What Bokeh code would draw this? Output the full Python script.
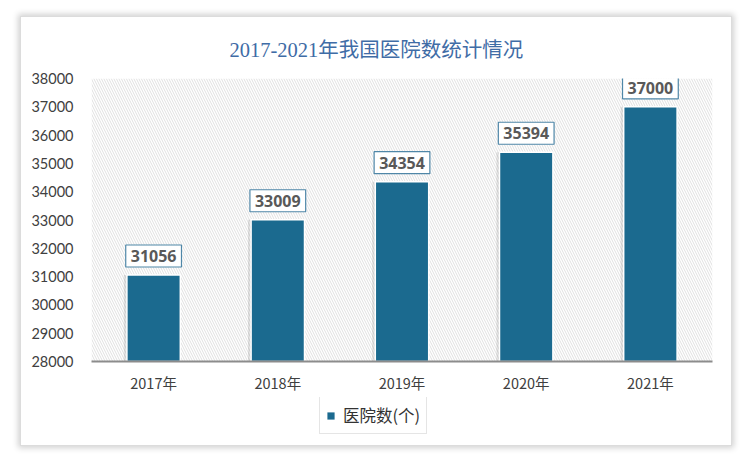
from bokeh.plotting import figure
from bokeh.layouts import column
from bokeh.models import ColumnDataSource, BoxAnnotation, Legend, LegendItem, FixedTicker
from bokeh.transform import dodge
from bokeh.core.properties import value
from bokeh.embed import file_html
from bokeh.resources import INLINE

years = ["2017年", "2018年", "2019年", "2020年", "2021年"]
hospitals = [31056, 33009, 34354, 35394, 37000]
labels = [str(v) for v in hospitals]
y_ticks = list(range(28000, 38001, 1000))
series_name = "医院数(个)"
title_text = "2017-2021年我国医院数统计情况"

BAR_COLOR = "#1b6a8f"

src = ColumnDataSource(dict(x=years, top=hospitals, label=labels))

p = figure(
    x_range=years, y_range=(28000, 38000),
    width=710, height=380,
    output_backend="svg", toolbar_location=None,
    min_border_left=70, min_border_right=19, min_border_top=61, min_border_bottom=36,
    border_fill_color="white", background_fill_color="white",
    outline_line_color=None,
)

p.title.text = title_text
p.title.align = "left"
p.title.offset = 138
p.title.text_font = "Liberation Serif, Noto Sans CJK SC"
p.title.text_font_size = "20.5px"
p.title.text_font_style = "normal"
p.title.text_color = "#3f6ca6"
p.title.standoff = 36

# hatched plot background
p.add_layout(BoxAnnotation(fill_color="white", fill_alpha=1.0, line_color=None,
                           hatch_pattern="\\", hatch_color="#e0e0e0", hatch_scale=5,
                           hatch_weight=1, hatch_alpha=1.0, level="underlay"))

# soft shadow
p.vbar(x=dodge("x", -0.025, range=p.x_range), top="top", bottom=28000, width=0.43,
       source=src, fill_color="#000000", fill_alpha=0.10, line_color=None)

bars = p.vbar(x="x", top="top", bottom=28000, width=0.43, source=src,
              fill_color=BAR_COLOR, line_color="white", line_width=1.5)

p.text(x="x", y="top", text="label", source=src,
       text_align="center", text_baseline="bottom", y_offset=-8,
       text_font=value("Open Sans"), text_font_style="bold", text_font_size="16px",
       text_color="#595959", background_fill_color="white",
       border_line_color="#4f87a8", border_line_width=1.2, padding=(5, 5))

p.xgrid.visible = False
p.ygrid.visible = False

p.yaxis.ticker = FixedTicker(ticks=y_ticks)
p.yaxis.axis_line_color = None
p.yaxis.major_tick_line_color = None
p.yaxis.minor_tick_line_color = None
p.yaxis.major_label_text_font = "Lato"
p.yaxis.major_label_text_font_size = "14.5px"
p.yaxis.major_label_text_color = "#404040"
p.yaxis.major_label_standoff = 12

p.xaxis.axis_line_color = "#8c8c8c"
p.xaxis.axis_line_width = 2
p.xaxis.major_tick_line_color = None
p.xaxis.minor_tick_line_color = None
p.xaxis.major_label_text_font = "Noto Sans CJK SC"
p.xaxis.major_label_text_font_size = "14.5px"
p.xaxis.major_label_text_color = "#404040"
p.xaxis.major_label_standoff = 4

# legend strip
q = figure(width=710, height=48, output_backend="svg", toolbar_location=None,
           x_range=(0, 1), y_range=(0, 1),
           min_border=0, outline_line_color=None,
           border_fill_color="white", background_fill_color="white")
q.axis.visible = False
q.grid.visible = False
# proxy renderer kept outside the visible range, only for the legend swatch
proxy = q.vbar(x=[-5], top=[-5], bottom=[-6], width=0.5,
               fill_color=BAR_COLOR, line_color=None)
legend = Legend(items=[LegendItem(label=series_name, renderers=[proxy])],
                location=(228, 11), orientation="horizontal",
                label_text_font="Noto Sans CJK SC", label_text_font_size="16.5px",
                label_text_color="#333333", border_line_color="#cccccc",
                glyph_width=9, glyph_height=9, padding=6, margin=0,
                label_height=18, label_standoff=8, background_fill_alpha=1.0)
q.add_layout(legend, "center")

layout = column(p, q, spacing=0)
layout.margin = (16, 0, 0, 20)
layout.styles = {"box-shadow": "0px 0px 6px 2px rgba(0,0,0,0.18)",
                 "border": "1px solid #dcdcdc", "background": "white"}

open("out.html", "w").write(file_html(layout, INLINE))
